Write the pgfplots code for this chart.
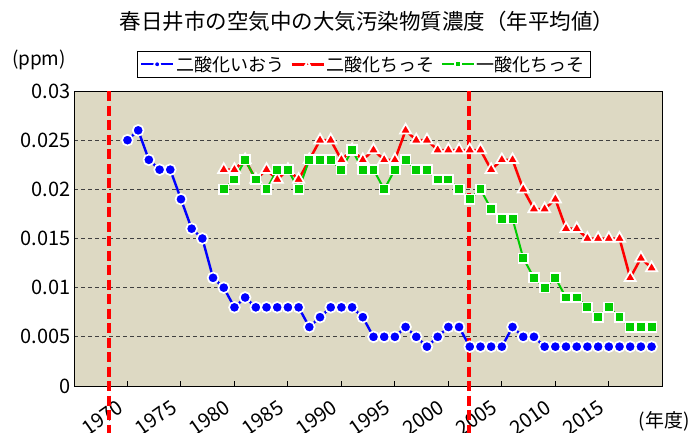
\documentclass[border=0pt]{standalone}
\usepackage{fontspec}
\setmainfont{Noto Sans CJK JP}
\usepackage{pgfplots}
\usepackage{pgfplotstable}
\pgfplotsset{compat=1.18}
\definecolor{plotbg}{RGB}{221,217,195}
\definecolor{gridc}{RGB}{64,64,64}
\definecolor{sgreen}{RGB}{0,204,0}

\pgfplotstableread{
year val
1970 0.025
1971 0.026
1972 0.023
1973 0.022
1974 0.022
1975 0.019
1976 0.016
1977 0.015
1978 0.011
1979 0.010
1980 0.008
1981 0.009
1982 0.008
1983 0.008
1984 0.008
1985 0.008
1986 0.008
1987 0.006
1988 0.007
1989 0.008
1990 0.008
1991 0.008
1992 0.007
1993 0.005
1994 0.005
1995 0.005
1996 0.006
1997 0.005
1998 0.004
1999 0.005
2000 0.006
2001 0.006
2002 0.004
2003 0.004
2004 0.004
2005 0.004
2006 0.006
2007 0.005
2008 0.005
2009 0.004
2010 0.004
2011 0.004
2012 0.004
2013 0.004
2014 0.004
2015 0.004
2016 0.004
2017 0.004
2018 0.004
2019 0.004
}\tblso

\pgfplotstableread{
year val
1979 0.022
1980 0.022
1981 0.023
1982 0.021
1983 0.022
1984 0.021
1985 0.022
1986 0.021
1987 0.023
1988 0.025
1989 0.025
1990 0.023
1991 0.024
1992 0.023
1993 0.024
1994 0.023
1995 0.023
1996 0.026
1997 0.025
1998 0.025
1999 0.024
2000 0.024
2001 0.024
2002 0.024
2003 0.024
2004 0.022
2005 0.023
2006 0.023
2007 0.020
2008 0.018
2009 0.018
2010 0.019
2011 0.016
2012 0.016
2013 0.015
2014 0.015
2015 0.015
2016 0.015
2017 0.011
2018 0.013
2019 0.012
}\tblnot

\pgfplotstableread{
year val
1979 0.020
1980 0.021
1981 0.023
1982 0.021
1983 0.020
1984 0.022
1985 0.022
1986 0.020
1987 0.023
1988 0.023
1989 0.023
1990 0.022
1991 0.024
1992 0.022
1993 0.022
1994 0.020
1995 0.022
1996 0.023
1997 0.022
1998 0.022
1999 0.021
2000 0.021
2001 0.020
2002 0.019
2003 0.020
2004 0.018
2005 0.017
2006 0.017
2007 0.013
2008 0.011
2009 0.010
2010 0.011
2011 0.009
2012 0.009
2013 0.008
2014 0.007
2015 0.008
2016 0.007
2017 0.006
2018 0.006
2019 0.006
}\tblno

\begin{document}
\begin{tikzpicture}[x=1pt,y=1pt]
\useasboundingbox (0,0) rectangle (699,432);
\begin{axis}[
  at={(74pt,46pt)}, anchor=south west,
  width=588.3pt, height=295pt, scale only axis,
  xmin=1965, xmax=2020, ymin=0, ymax=0.03,
  clip=false,
  axis background/.style={fill=plotbg},
  axis line style={black, line width=1pt},
  tick pos=left,
  tick align=inside,
  major tick length=5pt,
  xtick={1970,1975,...,2015},
  xticklabels={1970,1975,1980,1985,1990,1995,2000,2005,2010,2015},
  x tick style={black, line width=1pt},
  ytick={0.005,0.01,0.015,0.02,0.025},
  yticklabels={0.005,0.01,0.015,0.02,0.025},
  extra y ticks={0,0.03},
  extra y tick labels={0,0.03},
  extra y tick style={grid=none},
  y tick style={draw=none},
  scaled y ticks=false,
  ymajorgrids,
  grid style={gridc, line width=1.2pt, dash pattern=on 4pt off 3pt},
  tick label style={font=\fontsize{20}{20}\selectfont},
  x tick label style={xshift=-4pt, yshift=-17pt, rotate=35, anchor=east},
  legend style={at={(0.492,1.044)}, anchor=south, legend columns=3,
    draw=black, line width=0.8pt, fill=white,
    font=\fontsize{18}{18}\selectfont, inner xsep=3pt, inner ysep=3pt,
    /tikz/every even column/.append style={column sep=4pt}},
  legend image code/.code={\draw[mark repeat=2,mark phase=2,#1] plot coordinates {(0pt,0pt) (16pt,0pt) (32pt,0pt)};},
  legend image post style={mark size=3pt},
]
\addplot[color=blue, line width=2.4pt, mark=*, mark size=5.4pt,
  mark options={fill=blue, draw=white, line width=1.7pt, solid}] table[x=year,y=val] {\tblso};
\addlegendentry{二酸化いおう}
\addplot[color=red, line width=2.5pt, mark=triangle*, mark size=6.5pt,
  mark options={fill=red, draw=white, line width=1.7pt, solid}] table[x=year,y=val] {\tblnot};
\addlegendentry{二酸化ちっそ}
\addplot[color=sgreen, line width=2pt, mark=square*, mark size=4.8pt,
  mark options={fill=sgreen, draw=white, line width=1.7pt, solid}] table[x=year,y=val] {\tblno};
\addlegendentry{一酸化ちっそ}
\draw[red, line width=3.8pt, dash pattern=on 10pt off 4.5pt] (axis cs:1968.28,0.03) -- (axis cs:1968.28,-0.006);
\draw[red, line width=3.8pt, dash pattern=on 10pt off 4.5pt] (axis cs:2001.9,0.03) -- (axis cs:2001.9,-0.006);
\end{axis}
\node[font=\fontsize{21.5}{21.5}\selectfont] at (367,411) {春日井市の空気中の大気汚染物質濃度（年平均値）};
\node[font=\fontsize{19}{19}\selectfont] at (39,372) {(ppm)};
\node[font=\fontsize{19}{19}\selectfont] at (664,11) {(年度)};
\end{tikzpicture}
\end{document}
